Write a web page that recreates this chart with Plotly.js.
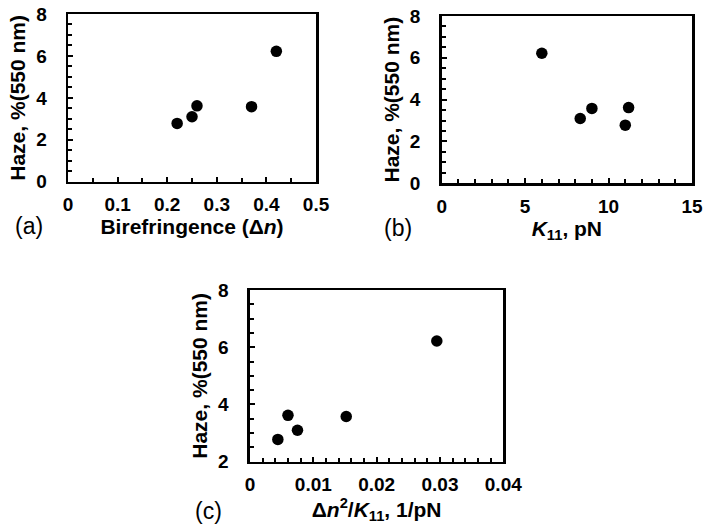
<!DOCTYPE html>
<html>
<head>
<meta charset="utf-8">
<script src="https://cdn.plot.ly/plotly-3.0.1.min.js"></script>
<style>html,body{margin:0;padding:0;background:#fff;}#chart{width:704px;height:527px;}</style>
</head>
<body>
<div id="chart"></div>
<script>
// Data (five samples)
const birefringence = [0.22, 0.25, 0.26, 0.37, 0.42];      // Δn
const k11 = [11.0, 8.3, 11.2, 9.0, 6.0];                  // K11, pN
const ratio = [0.0044, 0.0075, 0.0060, 0.0152, 0.0295];   // Δn²/K11, 1/pN
const haze = [2.78, 3.1, 3.62, 3.58, 6.22];               // Haze % at 550 nm

// Tick values and labels
const xTicksA = [0, 0.1, 0.2, 0.3, 0.4, 0.5];
const xLabelsA = ["0", "0.1", "0.2", "0.3", "0.4", "0.5"];
const xTicksB = [0, 5, 10, 15];
const xLabelsB = ["0", "5", "10", "15"];
const xTicksC = [0, 0.01, 0.02, 0.03, 0.04];
const xLabelsC = ["0", "0.01", "0.02", "0.03", "0.04"];
const yTicksAB = [0, 2, 4, 6, 8];
const yLabelsAB = ["0", "2", "4", "6", "8"];
const yTicksC = [2, 4, 6, 8];
const yLabelsC = ["2", "4", "6", "8"];

const xTitles = ["Birefringence (Δ<i>n</i>)", "<i>K</i><sub>11</sub>, pN", "Δ<i>n</i><sup>2</sup>/<i>K</i><sub>11</sub>, 1/pN"];
const yTitle = "Haze, %(550 nm)";
const panelLabels = ["(a)", "(b)", "(c)"];

const FONT = "Liberation Sans, Arial, sans-serif";
const marker = {color: "#000", size: 11.5, symbol: "circle"};

const traces = [
  {x: birefringence, y: haze, type: "scatter", mode: "markers", marker, xaxis: "x", yaxis: "y", hoverinfo: "skip"},
  {x: k11, y: haze, type: "scatter", mode: "markers", marker, xaxis: "x2", yaxis: "y2", hoverinfo: "skip"},
  {x: ratio, y: haze, type: "scatter", mode: "markers", marker, xaxis: "x3", yaxis: "y3", hoverinfo: "skip"}
];

const tickFont = () => ({family: FONT, size: 19, color: "#000", weight: 700});
const titleFont = () => ({family: FONT, size: 21, color: "#000", weight: 700});

function xAxis(domain, anchor, range, vals, labels, minorDtick, title) {
  return {
    domain, anchor, range, tickmode: "array", tickvals: vals, ticktext: labels,
    showline: true, linecolor: "#000", linewidth: 2.5, mirror: true,
    ticks: "inside", ticklen: 5, tickwidth: 2, tickcolor: "#000",
    minor: {dtick: minorDtick, tick0: 0, ticks: "inside", ticklen: 4, tickwidth: 2, tickcolor: "#000"},
    showgrid: false, zeroline: false, tickangle: 0,
    tickfont: tickFont(), ticklabelstandoff: 4, ticklabeloverflow: "allow",
    title: {text: title, font: titleFont(), standoff: 2},
    automargin: false, fixedrange: true
  };
}
function yAxis(domain, anchor, range, vals, labels, title) {
  return {
    domain, anchor, range, tickmode: "array", tickvals: vals, ticktext: labels,
    showline: true, linecolor: "#000", linewidth: 2.5, mirror: true,
    ticks: "inside", ticklen: 5, tickwidth: 2, tickcolor: "#000",
    minor: {dtick: 0.5, tick0: 0, ticks: "inside", ticklen: 4, tickwidth: 2, tickcolor: "#000"},
    showgrid: false, zeroline: false,
    tickfont: tickFont(), ticklabelstandoff: 15, ticklabeloverflow: "allow",
    title: {text: title, font: titleFont(), standoff: 5},
    automargin: false, fixedrange: true
  };
}

const layout = {
  width: 704, height: 527,
  margin: {l: 0, r: 0, t: 0, b: 0},
  font: {family: FONT, size: 19, color: "#000"},
  paper_bgcolor: "#fff", plot_bgcolor: "#fff",
  showlegend: false,
  xaxis: xAxis([0.0966, 0.4489], "y", [0, 0.5], xTicksA, xLabelsA, 0.05, xTitles[0]),
  yaxis: yAxis([0.6552, 0.9734], "x", [0, 8], yTicksAB, yLabelsAB, yTitle),
  xaxis2: xAxis([0.6274, 0.9830], "y2", [0, 15], xTicksB, xLabelsB, 1, xTitles[1]),
  yaxis2: yAxis([0.6522, 0.9696], "x2", [0, 8], yTicksAB, yLabelsAB, yTitle),
  xaxis3: xAxis([0.3551, 0.7149], "y3", [0, 0.04], xTicksC, xLabelsC, 0.002, xTitles[2]),
  yaxis3: yAxis([0.1239, 0.4497], "x3", [2, 8], yTicksC, yLabelsC, yTitle),
  annotations: [
    {text: panelLabels[0], x: 29/704, y: 1 - 226/527},
    {text: panelLabels[1], x: 398/704, y: 1 - 228/527},
    {text: panelLabels[2], x: 208/704, y: 1 - 511/527}
  ].map(a => Object.assign({xref: "paper", yref: "paper", showarrow: false, xanchor: "center", yanchor: "middle",
    font: {family: FONT, size: 23, color: "#000", weight: 400}}, a))
};

Plotly.newPlot("chart", traces, layout, {staticPlot: true, displayModeBar: false});
</script>
</body>
</html>
